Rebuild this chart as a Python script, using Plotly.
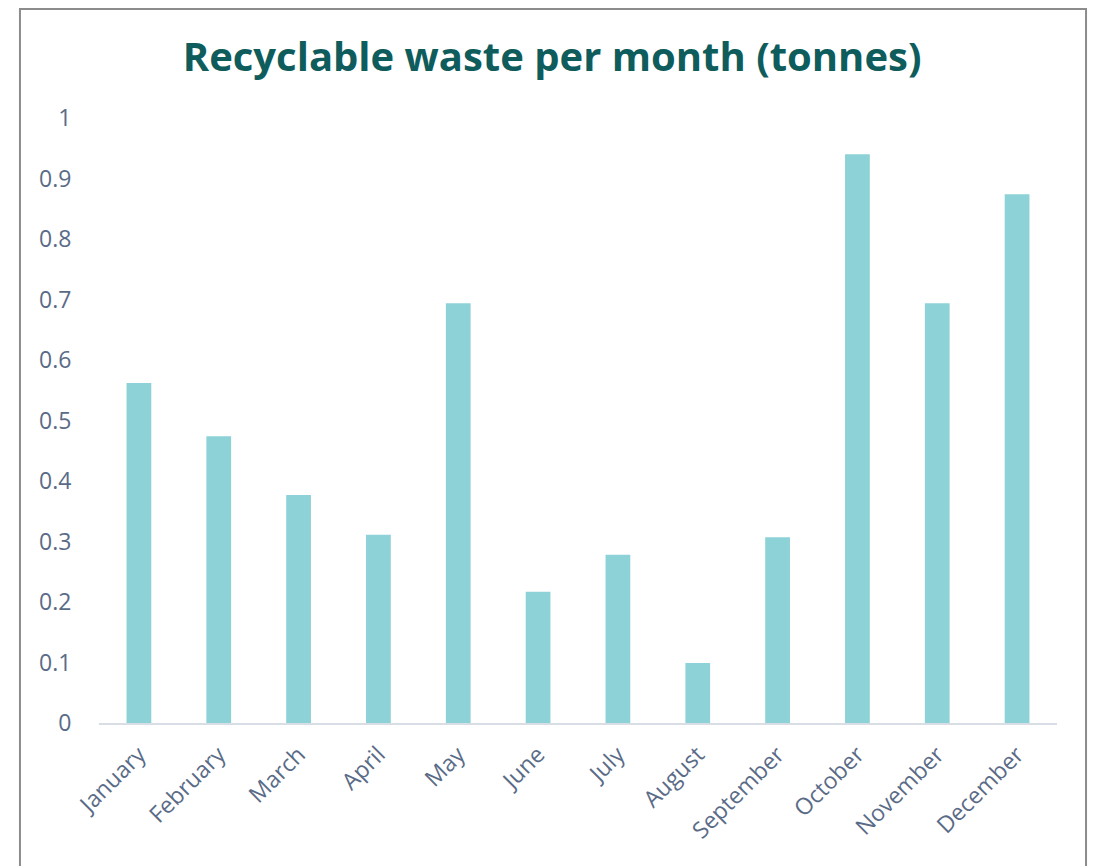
import plotly.graph_objects as go

months = ["January", "February", "March", "April", "May", "June", "July",
          "August", "September", "October", "November", "December"]
waste = [0.562, 0.474, 0.377, 0.311, 0.694, 0.217, 0.278, 0.099, 0.307, 0.940, 0.694, 0.874]
y_ticks = [0, 0.1, 0.2, 0.3, 0.4, 0.5, 0.6, 0.7, 0.8, 0.9, 1]
title_text = "Recyclable waste per month (tonnes)"

fig = go.Figure(go.Bar(x=months, y=waste, marker=dict(color="#8dd2d7", line=dict(width=0))))

label_color = "#5a6b87"
fig.update_layout(
    width=1097, height=866,
    margin=dict(l=91, r=48, t=110, b=151),
    paper_bgcolor="white", plot_bgcolor="white",
    bargap=0.69,
    showlegend=False,
    title=dict(text="<b>" + title_text + "</b>", x=0.496, xanchor="center", y=0.943, yanchor="middle",
               font=dict(family="Open Sans", size=40, color="#0e5c5c")),
    font=dict(family="Open Sans", color=label_color),
)
fig.update_xaxes(tickangle=-45, showgrid=False, showline=True, linecolor="#d9dde5", linewidth=2,
                 ticks="outside", ticklen=7, tickcolor="rgba(0,0,0,0)",
                 tickfont=dict(size=23, color=label_color))
fig.update_yaxes(range=[0, 1], tickvals=y_ticks, ticktext=[f"{v:g}" for v in y_ticks],
                 showgrid=False, zeroline=False, showline=False, ticks="outside", ticklen=22,
                 tickcolor="rgba(0,0,0,0)", tickfont=dict(size=23, color=label_color))
fig.add_shape(type="rect", xref="paper", yref="paper", x0=-0.0825, x1=1.0303, y0=-0.5, y1=1.18,
              line=dict(color="#8c8c8c", width=2), fillcolor="rgba(0,0,0,0)", layer="below")

fig.write_html("out.html")
